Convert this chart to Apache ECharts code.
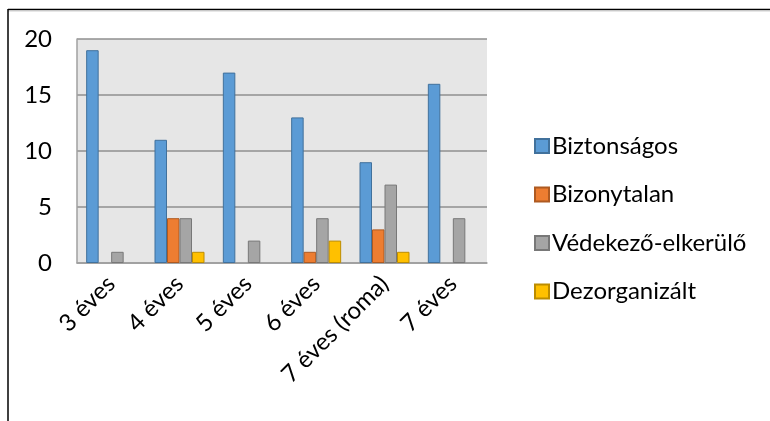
<!DOCTYPE html>
<html>
<head>
<meta charset="utf-8">
<script src="https://cdn.jsdelivr.net/npm/echarts@6/dist/echarts.min.js"></script>
<style>
  html, body { margin: 0; padding: 0; background: #fff; }
  #chart { width: 770px; height: 421px; }
</style>
</head>
<body>
<div id="chart"></div>
<script>
// Age groups on the category axis
const categories = ['3 éves', '4 éves', '5 éves', '6 éves', '7 éves (roma)', '7 éves'];

// Attachment types, counts per age group
const biztonsagos = [19, 11, 17, 13, 9, 16];
const bizonytalan = [0, 4, 0, 1, 3, 0];
const vedekezo = [1, 4, 2, 4, 7, 4];
const dezorganizalt = [0, 1, 0, 2, 1, 0];

const yTicks = { min: 0, max: 20, interval: 5 };

const FONT = 'Lato, "Noto Sans", sans-serif';

function barSeries(name, data, fill, stroke) {
  return {
    name: name,
    type: 'bar',
    // zero counts get no outline so they leave no sliver on the axis
    data: data.map(v => v === 0 ? { value: v, itemStyle: { borderWidth: 0 } } : v),
    barWidth: 12.5,
    barGap: '0%',
    itemStyle: { color: fill, borderColor: stroke, borderWidth: 1 },
    emphasis: { disabled: true }
  };
}

const chart = echarts.init(document.getElementById('chart'), null, { renderer: 'canvas' });

chart.setOption({
  animation: false,
  backgroundColor: '#ffffff',
  textStyle: { fontFamily: FONT },
  grid: {
    left: 77, top: 39, right: 283, bottom: 158,
    show: true,
    backgroundColor: '#e6e6e6',
    borderWidth: 0
  },
  legend: {
    orient: 'vertical',
    left: 529,
    top: 129,
    itemWidth: 14,
    itemHeight: 14,
    itemGap: 24.5,
    icon: 'rect',
    textStyle: { fontSize: 24, color: '#000', fontFamily: FONT, lineHeight: 24, padding: [0, 0, 0, -2] },
    data: ['Biztonságos', 'Bizonytalan', 'Védekező-elkerülő', 'Dezorganizált']
  },
  xAxis: {
    type: 'category',
    data: categories,
    axisLine: { show: true, lineStyle: { color: '#a0a0a0', width: 1.5 } },
    axisTick: { show: false },
    axisLabel: {
      rotate: 45,
      margin: 17,
      fontSize: 24,
      color: '#000',
      fontFamily: FONT,
      interval: 0,
      padding: [0, 0, 0, 0]
    }
  },
  yAxis: {
    type: 'value',
    min: yTicks.min,
    max: yTicks.max,
    interval: yTicks.interval,
    axisLine: { show: true, lineStyle: { color: '#a0a0a0', width: 1.5 } },
    axisTick: { show: false },
    splitLine: { show: true, lineStyle: { color: '#8f8f8f', width: 1.5 } },
    axisLabel: { fontSize: 24, color: '#000', margin: 25, fontFamily: FONT }
  },
  graphic: [
    { type: 'line', shape: { x1: 8, y1: 9.5, x2: 770, y2: 9.5 }, style: { stroke: '#000', lineWidth: 1.5 }, silent: true },
    { type: 'line', shape: { x1: 8, y1: 11, x2: 770, y2: 11 }, style: { stroke: '#d0d0d0', lineWidth: 1 }, silent: true },
    { type: 'line', shape: { x1: 8, y1: 9, x2: 8, y2: 421 }, style: { stroke: '#000', lineWidth: 1.5 }, silent: true }
  ],
  series: [
    barSeries('Biztonságos', biztonsagos, '#5b9bd5', '#41719c'),
    barSeries('Bizonytalan', bizonytalan, '#ed7d31', '#ae5a21'),
    barSeries('Védekező-elkerülő', vedekezo, '#a5a5a5', '#787878'),
    barSeries('Dezorganizált', dezorganizalt, '#ffc000', '#bc8c00')
  ]
});
</script>
</body>
</html>
